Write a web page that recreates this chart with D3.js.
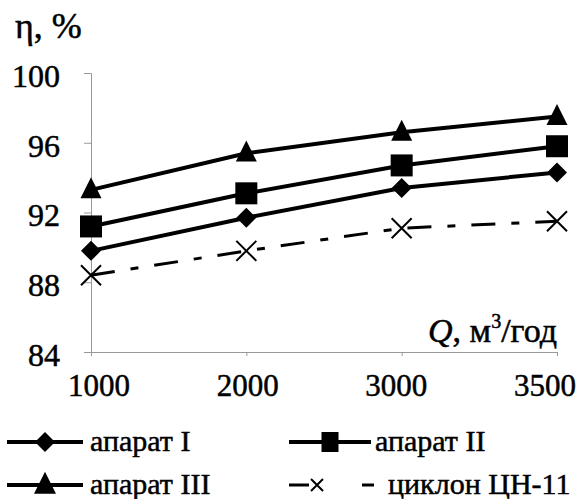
<!DOCTYPE html>
<html>
<head>
<meta charset="utf-8">
<script src="https://cdn.jsdelivr.net/npm/d3@7"></script>
</head>
<body style="margin:0">
<svg id="chart" width="577" height="499" font-family="Liberation Serif"></svg>
<script>
// data
let categories = ["1000", "2000", "3000", "3500"];
let seriesNames = ["апарат I", "апарат II", "апарат III", "циклон ЦН-11"];
let aparat1 = [89.8, 91.7, 93.4, 94.3];
let aparat2 = [91.2, 93.1, 94.7, 95.8];
let aparat3 = [93.3, 95.4, 96.6, 97.5];
let cyclone = [88.4, 89.8, 91.1, 91.5];
let yTicks = [84, 88, 92, 96, 100];

let serifFont = "'Liberation Serif'";

let svg = d3.select("#chart");

// serif on every text node, a hair of stroke to get the heavy scanned look
function serif(sel) {
    return sel.attr("font-family", "Liberation Serif").style("font-family", serifFont)
        .attr("fill", "#000").attr("stroke", "#000").attr("stroke-width", 0.5);
}

let x = d3.scalePoint().domain(categories).range([91, 557]);
// the category labels in the picture sit on a slightly narrower span than the points
let xLabel = d3.scalePoint().domain(categories).range([99, 545]);
let y = d3.scaleLinear().domain([84, 100]).range([352, 73]);

// axes, thin grey like the scan
let yAxis = d3.axisLeft(y).tickValues(yTicks).tickSize(7).tickPadding(24);
let gy = svg.append("g").attr("transform", "translate(91,0)").call(yAxis);
gy.attr("font-family", "Liberation Serif");
gy.select(".domain").attr("stroke", "#999").attr("stroke-width", 1);
gy.selectAll(".tick line").attr("stroke", "#999");
serif(gy.selectAll(".tick text"))
    .attr("font-size", 32)
    .attr("dy", "0.42em");

let xAxis = d3.axisBottom(x).tickSize(4).tickSizeOuter(0).tickFormat("");
let gx = svg.append("g").attr("transform", "translate(0,352)").call(xAxis);
gx.select(".domain").attr("stroke", "#999").attr("stroke-width", 1);
gx.selectAll(".tick line").attr("stroke", "#999");

serif(svg.append("g").selectAll("text")
    .data(categories)
    .join("text"))
    .attr("x", d => xLabel(d))
    .attr("y", 396)
    .attr("text-anchor", "middle")
    .attr("font-size", 31)
    .text(d => d);

serif(svg.append("text")).attr("x", 15).attr("y", 38).attr("font-size", 36).text("η, %");

let qLabel = serif(svg.append("text")).attr("x", 557).attr("y", 342)
    .attr("text-anchor", "end").attr("font-size", 34);
qLabel.append("tspan").attr("font-style", "italic").text("Q");
qLabel.append("tspan").text(", м");
qLabel.append("tspan").attr("font-size", 20).attr("dy", -14).text("3");
qLabel.append("tspan").attr("dy", 14).text("/год");

// marker drawers
function diamond(g, cx, cy, s) {
    let h = s / 2;
    g.append("path")
        .attr("d", "M" + cx + "," + (cy - h) + "L" + (cx + h) + "," + cy + "L" + cx + "," + (cy + h) + "L" + (cx - h) + "," + cy + "Z")
        .attr("fill", "#000");
}
function square(g, cx, cy, s, h) {
    h = h || s;
    g.append("rect").attr("x", cx - s / 2).attr("y", cy - h / 2)
        .attr("width", s).attr("height", h).attr("fill", "#000");
}
function triangle(g, cx, cy, s) {
    g.append("path")
        .attr("d", "M" + cx + "," + (cy - s * 0.6) + "L" + (cx + s / 2) + "," + (cy + s * 0.4) + "L" + (cx - s / 2) + "," + (cy + s * 0.4) + "Z")
        .attr("fill", "#000");
}
function cross(g, cx, cy, s) {
    g.append("path")
        .attr("d", "M" + (cx - s / 2) + "," + (cy - s / 2) + "L" + (cx + s / 2) + "," + (cy + s / 2) +
                   "M" + (cx + s / 2) + "," + (cy - s / 2) + "L" + (cx - s / 2) + "," + (cy + s / 2))
        .attr("stroke", "#000").attr("stroke-width", 2).attr("fill", "none");
}

let series = [
    { values: cyclone, marker: cross, size: 20, width: 3, dash: "24,16,8,16" },
    { values: aparat1, marker: diamond, size: 20, width: 4, dash: null },
    { values: aparat2, marker: square, size: 22, width: 4, dash: null },
    { values: aparat3, marker: triangle, size: 21, width: 4, dash: null }
];

let line = d3.line().x((d, i) => x(categories[i])).y(d => y(d));

series.forEach(s => {
    let g = svg.append("g");
    g.append("path").datum(s.values)
        .attr("d", line)
        .attr("fill", "none")
        .attr("stroke", "#000")
        .attr("stroke-width", s.width)
        .attr("stroke-dasharray", s.dash);
    s.values.forEach((v, i) => s.marker(g, x(categories[i]), y(v), s.size));
});

// legend
let legend = svg.append("g");
let legendFont = 30;

function legendEntry(lx, ly, len, tx, marker, size, label) {
    legend.append("line").attr("x1", lx).attr("x2", lx + len).attr("y1", ly).attr("y2", ly)
        .attr("stroke", "#000").attr("stroke-width", 4);
    marker(legend, lx + len / 2, ly, size, size + 3);
    serif(legend.append("text")).attr("x", tx).attr("y", ly + 9)
        .attr("font-size", legendFont).text(label);
}
legendEntry(7, 442, 76, 90, diamond, 20, seriesNames[0]);
legendEntry(289, 442, 82, 375, square, 17, seriesNames[1]);
legendEntry(7, 485, 76, 90, triangle, 22, seriesNames[2]);

// dashed-series legend: short line, cross, dash, label
legend.append("line").attr("x1", 289).attr("x2", 309).attr("y1", 485).attr("y2", 485)
    .attr("stroke", "#000").attr("stroke-width", 3);
cross(legend, 317, 485, 12);
legend.append("line").attr("x1", 362).attr("x2", 374).attr("y1", 485).attr("y2", 485)
    .attr("stroke", "#000").attr("stroke-width", 3);
serif(legend.append("text")).attr("x", 388).attr("y", 494)
    .attr("font-size", legendFont).text(seriesNames[3]);
</script>
</body>
</html>
